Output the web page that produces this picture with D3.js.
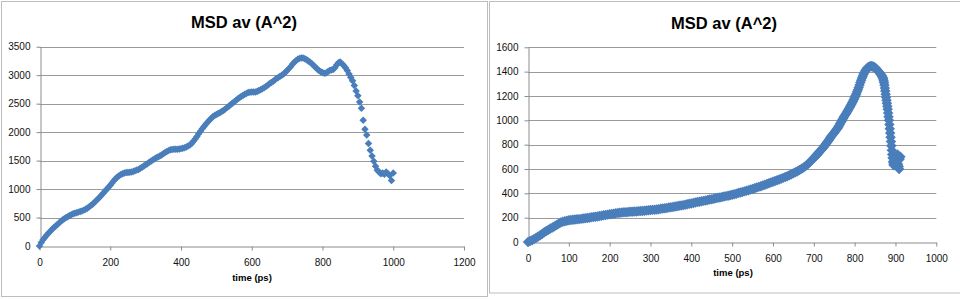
<!DOCTYPE html>
<html>
<head>
<meta charset="utf-8">
<script src="https://cdn.jsdelivr.net/npm/d3@7"></script>
<style>
  body { margin: 0; background: #fff; }
  svg { display: block; font-family: "Liberation Sans", Arial, sans-serif; }
</style>
</head>
<body>
<svg width="960" height="299"></svg>
<script>
// left chart: MSD av vs time, samples every 5 ps
var timeLeft = [
  0,5,10,15,20,25,30,35,40,45,50,55,60,65,70,75,80,85,90,95,
  100,105,110,115,120,125,130,135,140,145,150,155,160,165,170,175,180,185,190,195,
  200,205,210,215,220,225,230,235,240,245,250,255,260,265,270,275,280,285,290,295,
  300,305,310,315,320,325,330,335,340,345,350,355,360,365,370,375,380,385,390,395,
  400,405,410,415,420,425,430,435,440,445,450,455,460,465,470,475,480,485,490,495,
  500,505,510,515,520,525,530,535,540,545,550,555,560,565,570,575,580,585,590,595,
  600,605,610,615,620,625,630,635,640,645,650,655,660,665,670,675,680,685,690,695,
  700,705,710,715,720,725,730,735,740,745,750,755,760,765,770,775,780,785,790,795,
  800,805,810,815,820,825,830,835,840,845,850,855,860,865,870,875,880,885,890,895,
  900,905,910,915,920,925,930,935,940,945,950,955,960,965,970,975,980,985,990,995,1000
];
var msdLeft = [
  0,60,110,150,190,225,255,290,320,345,375,405,430,455,480,500,515,535,550,565,
  575,585,595,605,615,630,645,665,685,710,735,765,795,825,855,890,925,960,995,1030,
  1065,1105,1145,1180,1210,1235,1255,1270,1280,1290,1290,1295,1300,1310,1320,1335,1345,1365,1385,1405,
  1425,1445,1470,1490,1510,1530,1550,1565,1580,1600,1620,1640,1660,1675,1690,1695,1700,1700,1700,1705,
  1710,1715,1725,1740,1755,1775,1800,1840,1880,1925,1970,2015,2060,2100,2140,2175,2210,2240,2270,2290,
  2310,2325,2340,2360,2380,2405,2430,2455,2480,2505,2530,2555,2580,2605,2625,2645,2665,2680,2695,2700,
  2705,2705,2705,2715,2730,2745,2760,2780,2800,2825,2850,2870,2890,2915,2940,2960,2980,3000,3020,3050,
  3080,3115,3150,3190,3225,3255,3280,3295,3300,3300,3290,3270,3250,3225,3200,3170,3140,3110,3080,3060,
  3045,3035,3040,3060,3080,3090,3100,3130,3180,3220,3230,3200,3170,3130,3080,3020,2960,2900,2820,2720,
  2640,2530,2420,2210,2050,1950,1800,1680,1580,1490,1400,1330,1300,1270,1280,1260,1300,1270,1240,1150,1280
];

// right chart: MSD av vs time (5 ps, 2 ps from 700 ps, 1 ps through the fall)
var timeRight = [
  0,5,10,15,20,25,30,35,40,45,50,55,60,65,70,75,80,85,90,95,
  100,105,110,115,120,125,130,135,140,145,150,155,160,165,170,175,180,185,190,195,
  200,205,210,215,220,225,230,235,240,245,250,255,260,265,270,275,280,285,290,295,
  300,305,310,315,320,325,330,335,340,345,350,355,360,365,370,375,380,385,390,395,
  400,405,410,415,420,425,430,435,440,445,450,455,460,465,470,475,480,485,490,495,
  500,505,510,515,520,525,530,535,540,545,550,555,560,565,570,575,580,585,590,595,
  600,605,610,615,620,625,630,635,640,645,650,655,660,665,670,675,680,685,690,695,
  700,702,704,706,708,710,712,714,716,718,720,722,724,726,728,730,732,734,736,738,
  740,742,744,746,748,750,752,754,756,758,760,762,764,766,768,770,772,774,776,778,
  780,782,784,786,788,790,792,794,796,798,800,802,804,806,808,810,812,814,816,818,
  820,822,824,826,828,830,832,834,836,838,840,842,844,846,848,850,852,854,856,858,
  860,862,864,866,867,868,869,870,871,872,873,874,875,876,877,878,879,880,881,882,
  883,884,885,886,887,888,889,890,891,892,893,894,895,896,
  898,900,902,904,905,906,908,909,910,912
];
var msdRight = [
  0,8,15,25,35,45,55,68,80,90,100,110,120,130,140,150,160,166,170,175,
  178,180,182,184,186,188,190,193,195,198,200,203,205,208,210,213,215,219,222,225,
  228,231,233,236,238,240,242,244,245,247,248,249,250,251,252,254,255,257,258,260,
  262,264,266,268,270,273,275,278,280,283,285,288,291,294,297,300,303,307,310,314,
  317,321,324,328,331,335,338,342,345,349,352,356,359,363,366,370,373,377,380,384,
  388,393,397,402,406,411,416,421,426,431,436,442,447,453,458,464,470,476,482,489,
  495,501,507,514,520,527,534,541,549,557,565,573,582,592,602,613,624,638,655,672,
  690,697,704,711,718,726,734,741,749,757,765,773,781,789,798,807,816,825,835,845,
  855,864,873,882,891,898,908,917,926,935,945,957,969,981,993,1005,1017,1029,1040,1050,
  1060,1072,1084,1096,1108,1120,1132,1144,1157,1171,1185,1201,1217,1234,1252,1270,1290,1310,1329,1347,
  1365,1380,1393,1405,1416,1425,1432,1437,1441,1444,1445,1444,1443,1441,1437,1432,1426,1419,1411,1403,
  1395,1387,1379,1370,1362,1355,1348,1340,1325,1310,1290,1265,1240,1215,1190,1165,1140,1115,1090,1060,
  1030,1000,965,930,895,860,825,790,755,720,690,660,640,630,
  645,670,700,690,720,640,620,600,680,700
];

var xTicksLeft = [0, 200, 400, 600, 800, 1000, 1200];
var yTicksLeft = [0, 500, 1000, 1500, 2000, 2500, 3000, 3500];
var xTicksRight = [0, 100, 200, 300, 400, 500, 600, 700, 800, 900, 1000];
var yTicksRight = [0, 200, 400, 600, 800, 1000, 1200, 1400, 1600];

var title = "MSD av (A^2)";
var xTitle = "time (ps)";

var svg = d3.select("svg");
var blue = "#4a7ebb";

function drawChart(opt) {
  var g = svg.append("g");

  // panel frame
  g.append("rect")
      .attr("x", opt.frame[0]).attr("y", opt.frame[1])
      .attr("width", opt.frame[2]).attr("height", opt.frame[3])
      .attr("fill", "#fff")
      .attr("stroke", "#bdbdbd");

  var x = d3.scaleLinear()
      .domain(d3.extent(opt.xTicks))
      .range([opt.left, opt.right]);
  var y = d3.scaleLinear()
      .domain(d3.extent(opt.yTicks))
      .range([opt.bottom, opt.top]);

  // gridlines
  g.append("g").selectAll("line")
    .data(opt.yTicks.slice(1))
    .enter().append("line")
      .attr("x1", opt.left).attr("x2", opt.right)
      .attr("y1", function(d) { return Math.round(y(d)) + 0.5; })
      .attr("y2", function(d) { return Math.round(y(d)) + 0.5; })
      .attr("stroke", "#9a9a9a");

  var fmt = d3.format("d");
  // y axis
  var yAxis = g.append("g")
      .attr("transform", "translate(" + (Math.round(opt.left) + 0.5) + ",0)")
      .call(d3.axisLeft(y).tickValues(opt.yTicks).tickFormat(fmt)
        .tickSize(4).tickPadding(6).tickSizeOuter(0));
  // x axis
  var xAxis = g.append("g")
      .attr("transform", "translate(0," + (Math.round(opt.bottom) + 0.5) + ")")
      .call(d3.axisBottom(x).tickValues(opt.xTicks).tickFormat(fmt)
        .tickSize(4).tickPadding(8).tickSizeOuter(0));

  [yAxis, xAxis].forEach(function(a) {
    a.selectAll(".domain").attr("stroke", "#8c8c8c");
    a.selectAll(".tick line").attr("stroke", "#8c8c8c");
    a.selectAll("text")
        .attr("font-family", "Liberation Sans, Arial, sans-serif")
        .attr("font-size", 10)
        .attr("fill", "#111");
  });

  // markers
  var pts = opt.times.map(function(t, i) { return [t, opt.values[i]]; });
  g.append("g").selectAll("path")
    .data(pts)
    .enter().append("path")
      .attr("d", d3.symbol().type(d3.symbolSquare).size(opt.markerSize))
      .attr("transform", function(d) { return "translate(" + x(d[0]) + "," + y(d[1]) + ")rotate(45)"; })
      .attr("fill", blue);

  // titles
  g.append("text")
      .attr("x", opt.titleX).attr("y", opt.titleY)
      .attr("text-anchor", "middle")
      .attr("font-size", 16.5)
      .attr("font-weight", "bold")
      .text(title);

  g.append("text")
      .attr("x", opt.xTitleX).attr("y", opt.xTitleY)
      .attr("text-anchor", "middle")
      .attr("font-size", 9.5)
      .attr("font-weight", "bold")
      .text(xTitle);
}

drawChart({
  frame: [1.5, 1.5, 486, 295],
  left: 39.5, right: 464, top: 46.7, bottom: 246,
  xTicks: xTicksLeft, yTicks: yTicksLeft,
  times: timeLeft, values: msdLeft,
  markerSize: 28,
  titleX: 244, titleY: 28,
  xTitleX: 252, xTitleY: 280.5
});

drawChart({
  frame: [489.5, 1.5, 480, 291.5],
  left: 528, right: 936.3, top: 47.3, bottom: 242,
  xTicks: xTicksRight, yTicks: yTicksRight,
  times: timeRight, values: msdRight,
  markerSize: 55,
  titleX: 724, titleY: 29,
  xTitleX: 733, xTitleY: 276
});
</script>
</body>
</html>
